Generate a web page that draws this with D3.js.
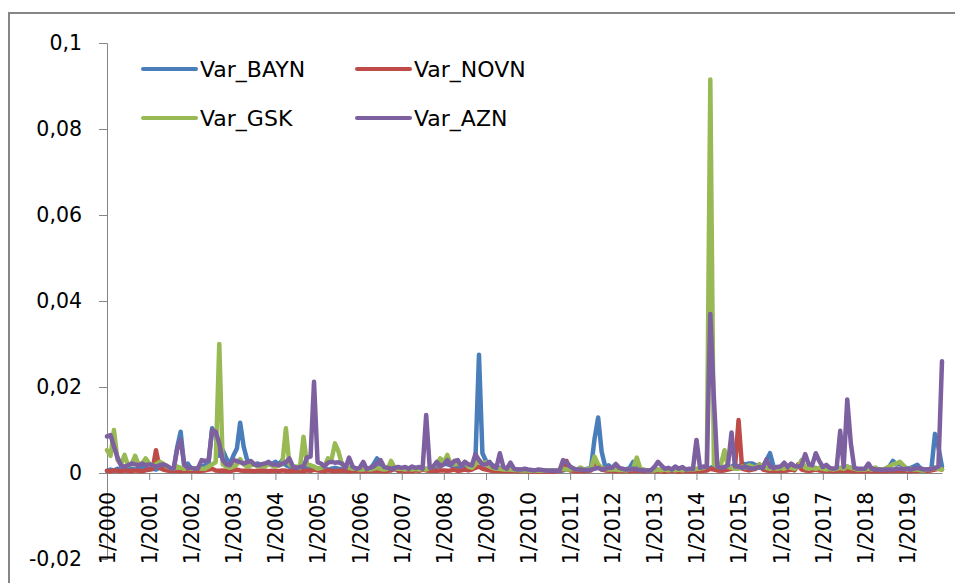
<!DOCTYPE html>
<html>
<head>
<meta charset="utf-8">
<script src="https://cdn.jsdelivr.net/npm/d3@7"></script>
<style>
  body { margin: 0; background: #fff; }
  svg { display: block; }
</style>
</head>
<body>
<svg width="955" height="583"></svg>
<script>
// monthly values, Jan 2000 .. Nov 2019, in units of 0.0001
const bayn = [
  5, 8, 6, 10, 8, 6, 8, 10, 8, 10, 12, 10,
  8, 10, 8, 12, 10, 8, 6, 8, 60, 96, 15, 22,
  10, 8, 12, 15, 18, 25, 104, 90, 40, 53, 34, 20,
  40, 57, 117, 61, 30, 25, 20, 22, 18, 15, 26, 20,
  26, 20, 30, 18, 15, 12, 10, 10, 12, 15, 12, 10,
  10, 12, 10, 8, 10, 12, 10, 8, 10, 12, 10, 8,
  8, 10, 8, 10, 20, 34, 18, 10, 8, 8, 8, 8,
  8, 8, 10, 8, 10, 8, 8, 10, 8, 12, 15, 20,
  22, 20, 18, 15, 14, 12, 12, 12, 15, 30, 275, 46,
  28, 22, 18, 15, 12, 10, 8, 8, 8, 8, 7, 7,
  6, 6, 5, 6, 5, 5, 5, 5, 5, 5, 6, 8,
  8, 8, 7, 8, 8, 10, 12, 80, 129, 50, 15, 18,
  10, 10, 8, 8, 8, 12, 26, 10, 8, 7, 6, 6,
  6, 8, 6, 6, 5, 6, 6, 5, 6, 5, 6, 6,
  8, 6, 8, 10, 12, 15, 10, 8, 10, 12, 15, 20,
  12, 22, 20, 22, 22, 18, 12, 15, 30, 46, 15, 12,
  10, 12, 10, 12, 10, 15, 12, 10, 12, 10, 12, 10,
  10, 8, 10, 8, 10, 12, 10, 15, 12, 8, 8, 8,
  8, 8, 8, 8, 8, 8, 10, 15, 28, 20, 22, 15,
  10, 12, 15, 19, 10, 8, 8, 10, 91, 60, 15
];
const novn = [
  5, 4, 6, 5, 4, 6, 5, 4, 6, 5, 4, 6,
  8, 10, 53, 12, 8, 6, 5, 6, 5, 4, 5, 6,
  5, 6, 4, 5, 6, 8, 10, 6, 5, 6, 5, 4,
  6, 8, 6, 5, 6, 5, 4, 5, 6, 5, 4, 5,
  5, 4, 6, 5, 4, 5, 6, 5, 4, 6, 5, 8,
  6, 5, 4, 6, 5, 4, 5, 6, 5, 4, 5, 6,
  5, 4, 5, 6, 5, 6, 5, 4, 5, 6, 13, 5,
  5, 4, 5, 4, 6, 5, 8, 6, 5, 6, 5, 6,
  6, 5, 6, 8, 5, 6, 8, 6, 8, 12, 15, 10,
  8, 6, 5, 6, 5, 4, 5, 4, 5, 4, 4, 5,
  4, 3, 4, 3, 4, 3, 4, 3, 4, 5, 8, 28,
  6, 5, 4, 5, 4, 5, 6, 30, 15, 8, 6, 5,
  5, 4, 5, 4, 5, 4, 5, 6, 5, 4, 4, 5,
  4, 5, 4, 3, 4, 5, 4, 3, 4, 5, 4, 4,
  5, 4, 5, 6, 10, 8, 6, 5, 6, 8, 10, 12,
  123, 10, 8, 6, 8, 10, 20, 8, 6, 5, 6, 5,
  6, 5, 6, 8, 6, 20, 8, 6, 5, 6, 8, 6,
  5, 6, 5, 4, 5, 6, 5, 6, 5, 4, 5, 4,
  4, 5, 4, 5, 4, 5, 4, 5, 6, 5, 6, 5,
  5, 4, 5, 6, 5, 6, 5, 6, 8, 10, 8
];
const gsk = [
  53, 40, 100, 30, 20, 42, 18, 20, 40, 20, 22, 34,
  22, 18, 20, 26, 22, 15, 12, 10, 15, 12, 10, 12,
  10, 10, 12, 10, 10, 15, 20, 25, 300, 20, 15, 12,
  15, 20, 32, 20, 15, 18, 20, 15, 18, 15, 20, 18,
  15, 18, 20, 104, 20, 15, 15, 12, 84, 20, 18, 15,
  10, 12, 15, 34, 30, 69, 50, 20, 15, 12, 10, 10,
  8, 8, 10, 8, 10, 12, 10, 8, 10, 28, 12, 10,
  10, 8, 10, 8, 10, 8, 10, 8, 12, 15, 20, 34,
  25, 42, 20, 20, 22, 18, 26, 15, 12, 20, 30, 22,
  25, 15, 12, 10, 10, 8, 8, 8, 7, 7, 6, 6,
  6, 5, 6, 5, 6, 5, 6, 5, 6, 8, 10, 8,
  8, 10, 8, 13, 8, 8, 10, 38, 20, 12, 10, 8,
  8, 8, 7, 7, 6, 8, 10, 36, 10, 8, 6, 6,
  6, 8, 6, 8, 6, 8, 6, 8, 6, 8, 8, 8,
  10, 10, 12, 15, 915, 20, 15, 20, 53, 15, 12, 10,
  10, 15, 12, 18, 15, 12, 20, 15, 12, 10, 12, 10,
  12, 10, 15, 12, 10, 15, 30, 12, 10, 12, 10, 12,
  10, 8, 10, 8, 10, 12, 10, 15, 12, 10, 8, 8,
  8, 10, 8, 13, 8, 8, 10, 15, 20, 22, 26, 18,
  8, 10, 8, 8, 6, 6, 8, 10, 12, 10, 8
];
const azn = [
  85, 88, 62, 36, 18, 15, 18, 22, 20, 18, 22, 18,
  20, 18, 15, 18, 20, 17, 12, 10, 55, 77, 20, 12,
  12, 10, 11, 30, 28, 30, 100, 96, 69, 30, 20, 18,
  30, 28, 25, 22, 25, 28, 20, 18, 20, 22, 25, 20,
  20, 18, 22, 25, 34, 15, 12, 14, 15, 36, 38, 212,
  25, 22, 15, 24, 26, 24, 25, 22, 12, 36, 15, 10,
  12, 26, 10, 12, 15, 22, 30, 14, 12, 10, 12, 14,
  12, 14, 10, 15, 12, 14, 10, 135, 12, 15, 26, 15,
  20, 30, 18, 28, 30, 15, 26, 20, 18, 44, 30, 20,
  20, 26, 15, 12, 46, 14, 10, 24, 10, 8, 8, 10,
  8, 7, 6, 8, 7, 6, 5, 6, 5, 6, 30, 25,
  15, 10, 8, 8, 7, 6, 8, 10, 12, 8, 10, 12,
  12, 21, 12, 10, 8, 8, 10, 8, 7, 6, 6, 6,
  14, 26, 18, 10, 12, 8, 15, 10, 14, 8, 10, 9,
  77, 12, 15, 14, 370, 174, 15, 12, 14, 18, 94, 15,
  15, 12, 14, 12, 10, 12, 14, 12, 32, 15, 12, 14,
  15, 24, 14, 22, 16, 15, 18, 44, 20, 18, 46, 28,
  14, 19, 12, 10, 12, 98, 14, 171, 69, 12, 10, 10,
  10, 22, 10, 8, 8, 7, 8, 8, 8, 10, 10, 9,
  10, 8, 10, 12, 10, 8, 8, 10, 12, 15, 260
];

const seriesNames = ["Var_BAYN", "Var_NOVN", "Var_GSK", "Var_AZN"];
const seriesColors = ["#4a7ebb", "#be4b48", "#98b954", "#7d60a0"];
const seriesValues = [bayn, novn, gsk, azn];
const yTicks = [-0.02, 0, 0.02, 0.04, 0.06, 0.08, 0.1];
const tickYears = d3.range(2000, 2020);

const months = d3.timeMonth.range(new Date(2000, 0, 1), new Date(2019, 11, 1));

const width = 955, height = 583;
const fontFam = "DejaVu Sans, sans-serif";

const svg = d3.select("svg");

// outer chart border
svg.append("rect")
    .attr("x", 9).attr("y", 13)
    .attr("width", 970).attr("height", 600)
    .attr("fill", "#fff")
    .attr("stroke", "#868686")
    .attr("stroke-width", 2);

const x = d3.scaleTime()
    .domain([months[0], months[months.length - 1]])
    .range([107, 942]);

const y = d3.scaleLinear()
    .domain([-0.02, 0.1])
    .range([559, 43]);

const locale = d3.formatLocale({decimal: ",", thousands: ".", grouping: [3], currency: ["", ""], minus: "-"});
const fmt = locale.format("~g");

// y axis
const yAxis = svg.append("g")
    .attr("transform", "translate(107,0)")
    .call(d3.axisLeft(y).tickValues(yTicks).tickSize(8).tickPadding(17).tickFormat(fmt));
yAxis.select(".domain").attr("stroke", "#868686");
yAxis.selectAll(".tick line").attr("stroke", "#868686");
yAxis.selectAll("text")
    .attr("font-family", fontFam)
    .attr("font-size", "20.5px")
    .attr("fill", "#000");

// x axis at zero
const xAxis = svg.append("g")
    .attr("transform", `translate(0,${y(0)})`)
    .call(d3.axisBottom(x)
        .tickValues(tickYears.map(yr => new Date(yr, 0, 1)))
        .tickSize(7)
        .tickSizeOuter(0)
        .tickFormat(d3.timeFormat("1/%Y")));
xAxis.select(".domain").attr("stroke", "#868686");
xAxis.selectAll(".tick line").attr("stroke", "#868686");
xAxis.selectAll("text")
    .attr("font-family", fontFam)
    .attr("font-size", "20.5px")
    .attr("fill", "#000")
    .attr("text-anchor", "end")
    .attr("transform", "rotate(-90)")
    .attr("x", -19)
    .attr("y", 0)
    .attr("dy", "0.36em");

// series lines
const line = d3.line()
    .x((d, i) => x(months[i]))
    .y(d => y(d / 1e4));

svg.append("g")
    .selectAll("path")
    .data(seriesValues)
    .join("path")
    .attr("d", line)
    .attr("fill", "none")
    .attr("stroke", (d, i) => seriesColors[i])
    .attr("stroke-width", 4.5)
    .attr("stroke-linejoin", "round")
    .attr("stroke-linecap", "round");

// legend, two columns
const legendPos = [[143, 69], [357, 69], [143, 118], [357, 118]];
const legend = svg.append("g");
seriesNames.forEach((name, i) => {
  const [lx, ly] = legendPos[i];
  legend.append("line")
      .attr("x1", lx).attr("x2", lx + 53)
      .attr("y1", ly).attr("y2", ly)
      .attr("stroke", seriesColors[i])
      .attr("stroke-width", 4)
      .attr("stroke-linecap", "round");
  legend.append("text")
      .attr("x", lx + 57)
      .attr("y", ly)
      .attr("dy", "0.36em")
      .attr("font-family", fontFam)
      .attr("font-size", "22px")
      .attr("fill", "#000")
      .text(name);
});
</script>
</body>
</html>
